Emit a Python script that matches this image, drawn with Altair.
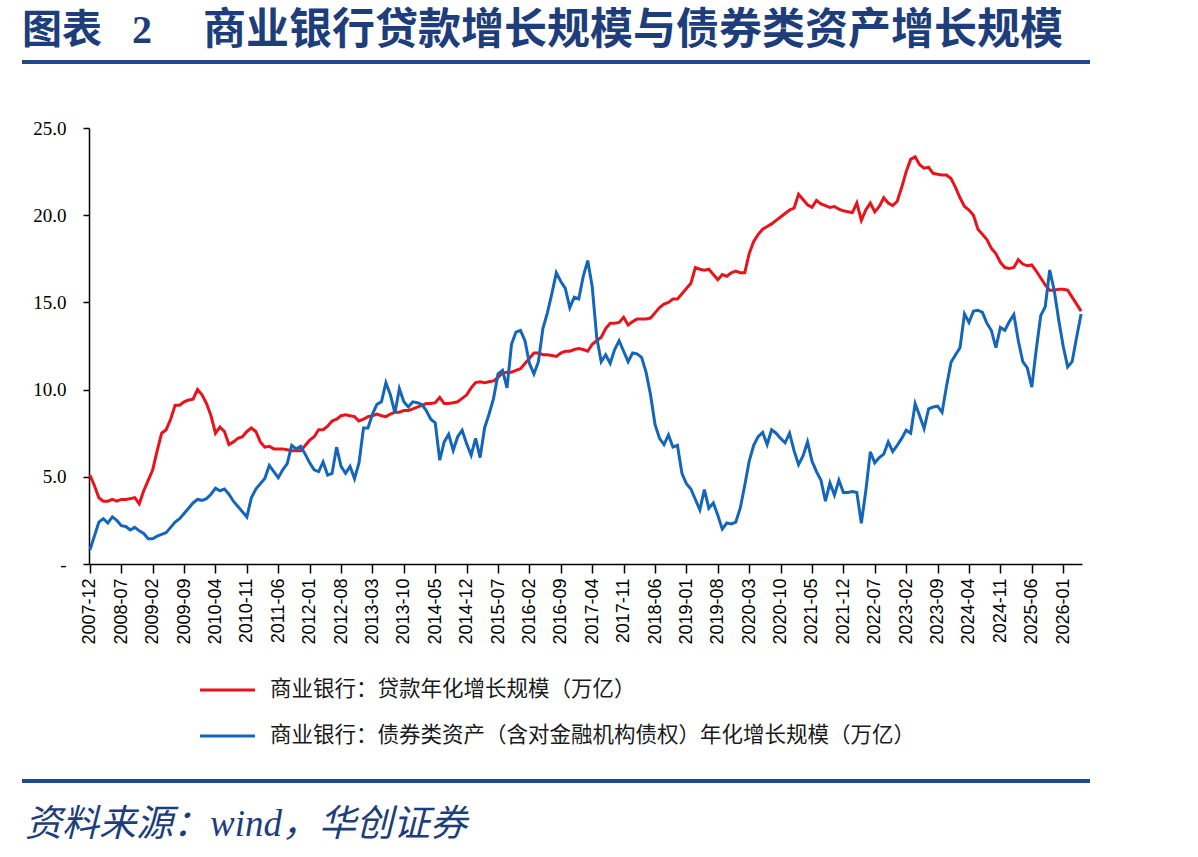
import altair as alt
import pandas as pd

# ---------------- data ----------------
months = pd.date_range("2007-12-01", periods=222, freq="MS").strftime("%Y-%m").tolist()

tick_labels = [
    "2007-12", "2008-07", "2009-02", "2009-09", "2010-04", "2010-11", "2011-06", "2012-01",
    "2012-08", "2013-03", "2013-10", "2014-05", "2014-12", "2015-07", "2016-02", "2016-09",
    "2017-04", "2017-11", "2018-06", "2019-01", "2019-08", "2020-03", "2020-10", "2021-05",
    "2021-12", "2022-07", "2023-02", "2023-09", "2024-04", "2024-11", "2025-06", "2026-01",
]

y_ticks = [0, 5, 10, 15, 20, 25]

series_names = ["商业银行：贷款年化增长规模（万亿）",
                "商业银行：债券类资产（含对金融机构债权）年化增长规模（万亿）"]

loans = [
    5.1, 4.5, 3.8, 3.6, 3.6, 3.7, 3.6, 3.7, 3.7, 3.75,
    3.8, 3.45, 4.2, 4.8, 5.4, 6.5, 7.5, 7.7, 8.3, 9.1,
    9.1, 9.3, 9.4, 9.45, 10.0, 9.7, 9.2, 8.5, 7.5, 7.85,
    7.6, 6.85, 7.0, 7.2, 7.3, 7.6, 7.8, 7.6, 7.0, 6.7,
    6.75, 6.6, 6.6, 6.6, 6.55, 6.5, 6.5, 6.5, 6.8, 7.1,
    7.3, 7.7, 7.7, 7.9, 8.2, 8.3, 8.5, 8.55, 8.5, 8.45,
    8.2, 8.3, 8.45, 8.5, 8.6, 8.5, 8.45, 8.6, 8.7, 8.7,
    8.8, 8.8, 8.9, 9.0, 9.1, 9.2, 9.2, 9.25, 9.55, 9.2,
    9.2, 9.25, 9.3, 9.5, 9.7, 10.1, 10.4, 10.45, 10.4, 10.45,
    10.5, 10.7, 10.95, 11.0, 11.0, 11.1, 11.2, 11.5, 11.8, 12.1,
    12.1, 12.0, 12.0, 11.95, 11.9, 12.1, 12.2, 12.2, 12.3, 12.35,
    12.3, 12.2, 12.6, 12.8, 13.0, 13.5, 13.8, 13.8, 13.85, 14.15,
    13.7, 13.9, 14.05, 14.05, 14.05, 14.1, 14.4, 14.7, 14.9, 15.0,
    15.2, 15.2, 15.5, 15.8, 16.1, 17.0, 16.9, 16.85, 16.9, 16.6,
    16.3, 16.6, 16.5, 16.7, 16.8, 16.7, 16.7, 17.8, 18.5, 18.9,
    19.2, 19.35, 19.5, 19.7, 19.9, 20.1, 20.3, 20.4, 21.2, 20.9,
    20.6, 20.45, 20.85, 20.65, 20.55, 20.45, 20.5, 20.35, 20.25, 20.2,
    20.15, 20.7, 19.7, 20.3, 20.7, 20.2, 20.5, 21.0, 20.7, 20.55,
    20.8, 21.6, 22.5, 23.2, 23.35, 22.9, 22.7, 22.75, 22.4, 22.35,
    22.3, 22.3, 22.1, 21.6, 21.0, 20.5, 20.3, 20.0, 19.2, 18.9,
    18.6, 18.1, 17.8, 17.3, 17.0, 16.95, 17.0, 17.45, 17.2, 17.1,
    17.15, 16.8, 16.4, 16.0, 15.7, 15.7, 15.75, 15.75, 15.7, 15.3,
    14.9, 14.5,
]

bonds = [
    0.8, 1.6, 2.4, 2.6, 2.35, 2.7, 2.5, 2.2, 2.15, 1.95,
    2.1, 1.9, 1.75, 1.45, 1.45, 1.6, 1.7, 1.8, 2.1, 2.4,
    2.6, 2.9, 3.2, 3.5, 3.7, 3.65, 3.75, 4.0, 4.35, 4.2,
    4.3, 4.0, 3.6, 3.3, 3.0, 2.7, 3.8, 4.3, 4.6, 4.9,
    5.65, 5.3, 4.95, 5.4, 5.75, 6.8, 6.6, 6.75, 6.3, 5.8,
    5.4, 5.3, 5.85, 5.1, 5.2, 6.7, 5.6, 5.2, 5.6, 4.9,
    5.8, 7.8, 7.8, 8.6, 9.15, 9.3, 10.4, 9.7, 8.66, 10.05,
    9.3, 9.0, 9.3, 9.25, 9.15, 8.8, 8.3, 8.1, 5.95, 7.0,
    7.44, 6.52, 7.3, 7.67, 6.9, 6.24, 7.2, 6.1, 7.8, 8.6,
    9.5, 10.9, 11.1, 10.1, 12.6, 13.3, 13.4, 12.8, 11.5, 10.9,
    11.6, 13.5, 14.4, 15.5, 16.7, 16.2, 15.8, 14.7, 15.3, 15.2,
    16.5, 17.4, 15.9, 13.0, 11.6, 12.0, 11.5, 12.3, 12.8, 12.2,
    11.6, 12.1, 12.05, 11.85, 11.0, 9.7, 8.0, 7.2, 6.85, 7.4,
    6.7, 6.8, 5.2, 4.6, 4.3, 3.7, 3.1, 4.27, 3.2, 3.5,
    2.8, 2.0, 2.35, 2.3, 2.4, 3.2, 4.5, 5.9, 6.8, 7.3,
    7.55, 6.85, 7.7, 7.5, 7.2, 6.95, 7.5, 6.5, 5.7, 6.2,
    7.0, 5.9, 5.3, 4.8, 3.6, 4.65, 3.95, 4.8, 4.1, 4.1,
    4.15, 4.1, 2.33, 4.2, 6.43, 5.8, 6.1, 6.3, 7.0, 6.45,
    6.8, 7.2, 7.67, 7.5, 9.19, 8.5, 7.76, 8.9, 9.0, 9.05,
    8.7, 10.2, 11.57, 12.0, 12.4, 14.34, 13.85, 14.5, 14.55, 14.43,
    13.8, 13.39, 12.4, 13.56, 13.4, 13.9, 14.3, 12.8, 11.6, 11.25,
    10.14, 12.3, 14.24, 14.75, 16.86, 15.7, 14.0, 12.5, 11.3, 11.6,
    13.0, 14.34,
]

n = min(len(months), len(loans), len(bonds))
df_loans = pd.DataFrame({"month": months[:n], "value": loans[:n]})
df_bonds = pd.DataFrame({"month": months[:n], "value": bonds[:n]})

RED = "#E8141C"
BLUE = "#1466BA"
NAVY = "#1D3E7B"

x_enc = alt.X(
    "month:O",
    sort=None,
    scale=alt.Scale(type="point", padding=0.2),
    axis=alt.Axis(
        values=tick_labels, title=None, labelAngle=-90, labelOverlap=False,
        labelFont="Liberation Sans", labelFontSize=18, labelColor="black",
        tickSize=9, tickColor="black", tickWidth=1.5,
        domainColor="black", domainWidth=1.5, labelPadding=5, grid=False,
    ),
)
y_enc = alt.Y(
    "value:Q",
    scale=alt.Scale(domain=[0, 25], nice=False, zero=True),
    axis=alt.Axis(
        values=y_ticks, title=None, grid=False,
        labelExpr="datum.value == 0 ? '-\u00a0\u00a0' : format(datum.value, '.1f')",
        labelFont="Liberation Serif", labelFontSize=19, labelColor="black",
        tickSize=6, tickColor="black", tickWidth=1.5,
        domainColor="black", domainWidth=1.5, labelPadding=17,
    ),
)

red_line = alt.Chart(df_loans).mark_line(color=RED, strokeWidth=3).encode(x=x_enc, y=y_enc)
blue_line = alt.Chart(df_bonds).mark_line(color=BLUE, strokeWidth=3).encode(x=x_enc, y=y_enc)


def text(t, x, y, **kw):
    return alt.Chart(pd.DataFrame({"t": [t]})).mark_text(align="left", baseline="middle", **kw).encode(
        x=alt.value(x), y=alt.value(y), text="t:N"
    )


def hrule(x1, x2, y, color, width):
    return alt.Chart(pd.DataFrame({"a": [0]})).mark_rule(color=color, strokeWidth=width).encode(
        x=alt.value(x1), x2=alt.value(x2), y=alt.value(y)
    )


# plot origin is at page (89, 128)
title1 = text("图表", -67, -97, font="Noto Sans CJK SC", fontSize=40, fontWeight="bold", color=NAVY)
title2 = text("2", 43, -97, font="Liberation Serif", fontSize=40, fontWeight="bold", color=NAVY)
title3 = text("商业银行贷款增长规模与债券类资产增长规模", 114, -97,
              font="Noto Sans CJK SC", fontSize=43, fontWeight="bold", color=NAVY)
top_rule = hrule(-67, 1001, -66, "#1F4A8C", 4)
bottom_rule = hrule(-67, 1001, 653, "#1F4A8C", 4)

leg_r = hrule(111, 166, 562, RED, 3)
leg_b = hrule(111, 166, 608, BLUE, 3)
leg_t1 = text(series_names[0], 181, 562, font="Noto Sans CJK SC", fontSize=21.5, color="#1a1a1a")
leg_t2 = text(series_names[1], 181, 608, font="Noto Sans CJK SC", fontSize=21.5, color="#1a1a1a")

source = text("资料来源：wind，华创证券", -64, 697, font="Liberation Serif, Noto Sans CJK SC",
              fontSize=37, fontStyle="italic", color=NAVY)

chart = alt.layer(
    red_line, blue_line,
    title1, title2, title3, top_rule, bottom_rule,
    leg_r, leg_b, leg_t1, leg_t2, source,
).properties(
    width=993, height=436,
    autosize=alt.AutoSizeParams(type="none"),
    padding={"left": 89, "top": 128, "right": 116, "bottom": 293},
    background="white",
).configure_view(strokeWidth=0)

chart.save("out.html", embed_options={"renderer": "svg", "actions": False})
